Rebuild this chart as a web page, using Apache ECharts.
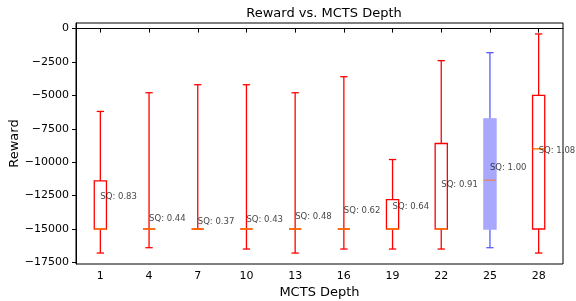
<!DOCTYPE html>
<html>
<head>
<meta charset="utf-8">
<script src="https://cdn.jsdelivr.net/npm/echarts@6/dist/echarts.min.js"></script>
<style>
  html, body { margin: 0; padding: 0; background: #fff; }
  #main { width: 576px; height: 301px; }
</style>
</head>
<body>
<div id="main"></div>
<script>
const depths = ['1', '4', '7', '10', '13', '16', '19', '22', '25', '28'];
const whiskerLow = [-16800, -16400, -15000, -16500, -16800, -16500, -16500, -16500, -16400, -16800];
const q1 = [-15000, -15000, -15000, -15000, -15000, -15000, -15000, -15000, -15000, -15000];
const medians = [-15000, -15000, -15000, -15000, -15000, -15000, -15000, -15000, -11350, -9000];
const q3 = [-11400, -15000, -15000, -15000, -15000, -15000, -12800, -8600, -6750, -5000];
const whiskerHigh = [-6200, -4800, -4200, -4200, -4800, -3600, -9800, -2400, -1800, -400];
const sqText = ['0.83', '0.44', '0.37', '0.43', '0.48', '0.62', '0.64', '0.91', '1.00', '1.08'];
const sqY = [-12600, -14270, -14430, -14320, -14050, -13630, -13360, -11670, -10425, -9110];
const yTicks = [0, -2500, -5000, -7500, -10000, -12500, -15000, -17500];
const bestIndex = 8;

const chartDom = document.getElementById('main');
const myChart = echarts.init(chartDom);

const boxData = depths.map((d, i) => [i, whiskerLow[i], q1[i], medians[i], q3[i], whiskerHigh[i]]);

// box, whiskers, caps and median drawn from the axis scales
function renderBox(params, api) {
    const i = api.value(0);
    const best = i === bestIndex;
    const lineColor = best ? '#5c5cff' : '#ff0000';
    const medColor = best ? '#d98a7a' : '#ff7f0e';
    const lo = api.coord([i, api.value(1)]);
    const b1 = api.coord([i, api.value(2)]);
    const md = api.coord([i, api.value(3)]);
    const b3 = api.coord([i, api.value(4)]);
    const hi = api.coord([i, api.value(5)]);
    const bw = api.size([1, 0])[0] * 0.25;
    const cw = bw * 0.6;
    const x = lo[0];
    const ls = { stroke: lineColor, lineWidth: 1.3 };
    return {
        type: 'group',
        children: [
            { type: 'line', shape: { x1: x, y1: b3[1], x2: x, y2: hi[1] }, style: ls },
            { type: 'line', shape: { x1: x, y1: b1[1], x2: x, y2: lo[1] }, style: ls },
            { type: 'line', shape: { x1: x - cw / 2, y1: hi[1], x2: x + cw / 2, y2: hi[1] }, style: ls },
            { type: 'line', shape: { x1: x - cw / 2, y1: lo[1], x2: x + cw / 2, y2: lo[1] }, style: ls },
            {
                type: 'rect',
                shape: { x: x - bw / 2, y: b3[1], width: bw, height: b1[1] - b3[1] },
                style: best ? { fill: '#a8a8ff', stroke: '#a8a8ff', lineWidth: 1.3 }
                            : { fill: 'none', stroke: lineColor, lineWidth: 1.3 }
            },
            { type: 'line', shape: { x1: x - bw / 2, y1: md[1], x2: x + bw / 2, y2: md[1] }, style: { stroke: medColor, lineWidth: 1.5 } }
        ]
    };
}

const option = {
    animation: false,
    textStyle: { fontFamily: 'DejaVu Sans' },
    title: {
        text: 'Reward vs. MCTS Depth',
        left: 319,
        textAlign: 'center',
        top: 2,
        textStyle: { fontSize: 13, fontWeight: 'normal', color: '#000', fontFamily: 'DejaVu Sans' }
    },
    grid: {
        left: 76,
        right: 13,
        top: 23,
        bottom: 37,
        outerBoundsMode: 'none',
        containLabel: false,
        show: true,
        borderColor: '#000',
        borderWidth: 1
    },
    xAxis: {
        type: 'category',
        data: depths,
        name: 'MCTS Depth',
        nameLocation: 'middle',
        nameGap: 22,
        nameMoveOverlap: false,
        nameTextStyle: { color: '#000', fontSize: 13 },
        axisLine: { show: true, lineStyle: { color: '#000' } },
        axisTick: { show: true, alignWithLabel: true, length: 4, lineStyle: { color: '#000' } },
        axisLabel: { color: '#000', fontSize: 11, margin: 7, interval: 0 },
        splitLine: { show: false }
    },
    yAxis: {
        type: 'value',
        min: -17620,
        max: 420,
        name: 'Reward',
        nameLocation: 'middle',
        nameGap: 55,
        nameMoveOverlap: false,
        nameTextStyle: { color: '#000', fontSize: 13 },
        axisLine: { show: true, lineStyle: { color: '#000' } },
        axisTick: { show: true, length: 4, customValues: yTicks, lineStyle: { color: '#000' } },
        axisLabel: {
            color: '#000',
            fontSize: 11,
            margin: 7,
            customValues: yTicks,
            formatter: (v) => String(v).replace('-', '\u2212')
        },
        splitLine: { show: false }
    },
    series: [
        {
            type: 'custom',
            renderItem: renderBox,
            data: boxData,
            clip: false
        },
        {
            type: 'scatter',
            symbolSize: 0,
            data: depths.map((d, i) => [i, sqY[i]]),
            label: {
                show: true,
                position: 'right',
                distance: 0,
                fontSize: 8.5,
                color: '#111',
                formatter: (p) => 'SQ: ' + sqText[p.dataIndex]
            },
            z: 5
        }
    ]
};

myChart.setOption(option);
</script>
</body>
</html>
